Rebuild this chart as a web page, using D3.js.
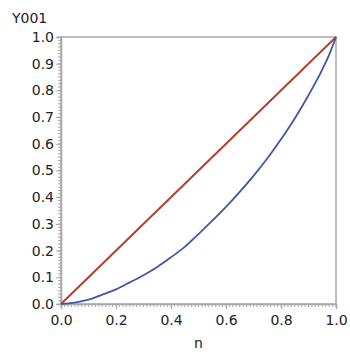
<!DOCTYPE html>
<html>
<head>
<meta charset="utf-8">
<script src="https://cdn.jsdelivr.net/npm/d3@7"></script>
<style>
body{margin:0;background:#fff;}
svg text{font-family:"DejaVu Sans",sans-serif;fill:#222;}
</style>
</head>
<body>
<svg id="chart" width="350" height="352"></svg>
<script>
// n (share) and Y001 (cumulative share)
var nVals   = [0, 0.05, 0.10, 0.15, 0.20, 0.25, 0.30, 0.35, 0.40, 0.45, 0.50, 0.55, 0.60, 0.65, 0.70, 0.75, 0.80, 0.85, 0.90, 0.95, 0.975, 1.0];
var y001    = [0, 0.005, 0.016, 0.035, 0.055, 0.081, 0.108, 0.139, 0.175, 0.214, 0.262, 0.312, 0.364, 0.420, 0.480, 0.545, 0.617, 0.695, 0.782, 0.878, 0.933, 1.0];
var diagN   = [0, 1];
var diagY   = [0, 1];
var xTicks  = [0, 0.2, 0.4, 0.6, 0.8, 1.0];
var yTicks  = [0, 0.1, 0.2, 0.3, 0.4, 0.5, 0.6, 0.7, 0.8, 0.9, 1.0];
var minorStep = 0.0125;

var svg = d3.select('#chart');
var padL = 61, padR = 336, padT = 37, padB = 304;

var x = d3.scaleLinear().domain([0, 1]).range([padL, padR]);
var y = d3.scaleLinear().domain([0, 1]).range([padB, padT]);

var minor = d3.range(0, 1 + 1e-9, minorStep);

// frame
svg.append('rect')
    .attr('x', padL).attr('y', padT)
    .attr('width', padR - padL).attr('height', padB - padT)
    .style('fill', 'none').style('stroke', '#a8a8a8').style('stroke-width', 1.5);

// minor ticks
svg.selectAll('.yminor').data(minor).enter().append('line')
    .attr('x1', padL - 3).attr('x2', padL)
    .attr('y1', function(d){ return y(d); }).attr('y2', function(d){ return y(d); })
    .style('stroke', '#a8a8a8').style('stroke-width', 1);
svg.selectAll('.xminor').data(minor).enter().append('line')
    .attr('y1', padB).attr('y2', padB + 3)
    .attr('x1', function(d){ return x(d); }).attr('x2', function(d){ return x(d); })
    .style('stroke', '#a8a8a8').style('stroke-width', 1);

// axes with major ticks
var yAxis = d3.axisLeft(y).tickValues(yTicks).tickFormat(d3.format('.1f')).tickSize(5).tickPadding(2);
var xAxis = d3.axisBottom(x).tickValues(xTicks).tickFormat(d3.format('.1f')).tickSize(5).tickPadding(6);

var gy = svg.append('g').attr('transform', 'translate(' + padL + ',0)').call(yAxis);
var gx = svg.append('g').attr('transform', 'translate(0,' + padB + ')').call(xAxis);
[gy, gx].forEach(function(g){
    g.select('.domain').style('stroke', '#a8a8a8').style('stroke-width', 1.5);
    g.selectAll('.tick line').style('stroke', '#a8a8a8');
    g.selectAll('.tick text').style('font-size', '14px').style('fill', '#222')
        .style('font-family', '"DejaVu Sans",sans-serif');
});

// diagonal
var line = d3.line()
    .x(function(d){ return x(d[0]); })
    .y(function(d){ return y(d[1]); });

svg.append('path')
    .datum(d3.zip(diagN, diagY))
    .attr('d', line)
    .style('fill', 'none').style('stroke', '#b2402c').style('stroke-width', 2);

// curve
svg.append('path')
    .datum(d3.zip(nVals, y001))
    .attr('d', line.curve(d3.curveMonotoneX))
    .style('fill', 'none').style('stroke', '#4256a6').style('stroke-width', 1.8);

// labels
svg.append('text').attr('x', 12).attr('y', 23).style('font-size', '14px').text('Y001');
svg.append('text').attr('x', x(0.5)).attr('y', 348).attr('text-anchor', 'middle')
    .style('font-size', '14px').text('n');
</script>
</body>
</html>
